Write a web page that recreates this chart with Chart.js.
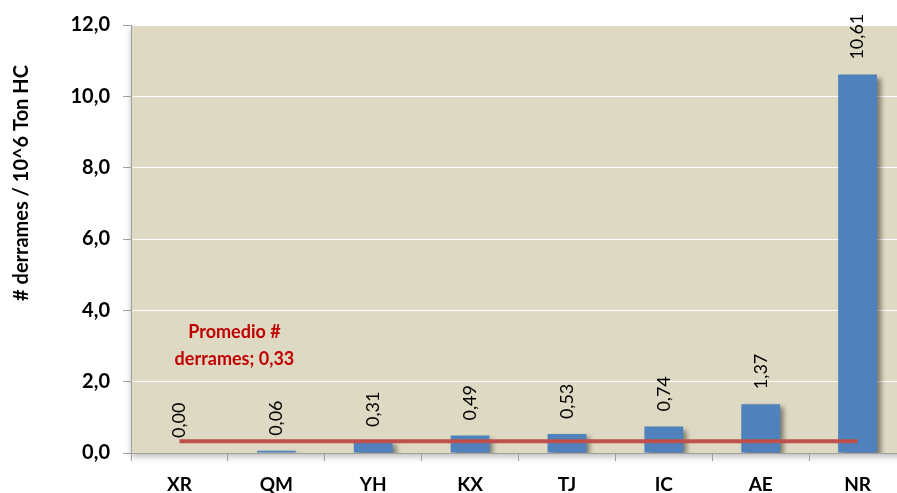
<!DOCTYPE html>
<html>
<head>
<meta charset="utf-8">
<script src="https://cdn.jsdelivr.net/npm/chart.js@4.4.0/dist/chart.umd.min.js"></script>
<style>
  html, body { margin: 0; padding: 0; background: #fff; overflow: hidden; }
  #wrap { width: 906px; height: 493px; position: relative; }
</style>
</head>
<body>
<div id="wrap"><canvas id="derramesChart"></canvas></div>
<script>
// --- data ---
const categories = ["XR", "QM", "YH", "KX", "TJ", "IC", "AE", "NR"];
const derrames = [0.00, 0.06, 0.31, 0.49, 0.53, 0.74, 1.37, 10.61];
const promedio = 0.33;
const promedioLine = categories.map(() => promedio);
const yTicks = [0, 2, 4, 6, 8, 10, 12];

const fmt = (v, d) => v.toFixed(d).replace(".", ",");

// --- plot area background ---
const plotBg = {
  id: "plotBg",
  beforeDraw(chart) {
    const { ctx, chartArea: a } = chart;
    ctx.save();
    ctx.shadowColor = "rgba(0,0,0,0.25)";
    ctx.shadowBlur = 6;
    ctx.shadowOffsetY = 4;
    ctx.fillStyle = "#DDD9C3";
    ctx.fillRect(a.left, a.top, a.right - a.left, a.bottom - a.top);
    ctx.restore();
  },
};

// --- bar shadows ---
const barShadow = {
  id: "barShadow",
  beforeDatasetDraw(chart, args) {
    if (args.index !== 0) return;
    const ctx = chart.ctx;
    ctx.save();
    ctx.shadowColor = "rgba(0,0,0,0.45)";
    ctx.shadowBlur = 5;
    ctx.shadowOffsetX = 4;
    ctx.shadowOffsetY = 3;
  },
  afterDatasetDraw(chart, args) {
    if (args.index !== 0) return;
    chart.ctx.restore();
  },
};

// --- value labels, y title and average label ---
const labels = {
  id: "labels",
  afterDraw(chart) {
    const ctx = chart.ctx;
    const bars = chart.getDatasetMeta(0).data;
    ctx.save();
    ctx.fillStyle = "#000";
    ctx.font = "18px Lato";
    ctx.textAlign = "left";
    ctx.textBaseline = "middle";
    bars.forEach((bar, i) => {
      ctx.save();
      ctx.translate(bar.x, bar.y - 15);
      ctx.rotate(-Math.PI / 2);
      ctx.fillText(fmt(derrames[i], 2), 0, 0);
      ctx.restore();
    });

    // y axis title
    ctx.save();
    ctx.translate(22, 183);
    ctx.rotate(-Math.PI / 2);
    ctx.textAlign = "center";
    ctx.font = "bold 20px Lato";
    ctx.fillText("# derrames / 10^6 Ton HC", 0, 0);
    ctx.restore();

    // average label
    const p0 = chart.getDatasetMeta(1).data[0];
    ctx.fillStyle = "#C00000";
    ctx.font = "bold 18px Lato";
    ctx.textAlign = "center";
    ctx.fillText("Promedio #", p0.x + 55, p0.y - 109);
    ctx.fillText("derrames; " + fmt(promedio, 2), p0.x + 55, p0.y - 82);
    ctx.restore();
  },
};

new Chart(document.getElementById("derramesChart"), {
  data: {
    labels: categories,
    datasets: [
      {
        type: "bar",
        data: derrames,
        backgroundColor: "#4F81BD",
        barPercentage: 0.4,
        categoryPercentage: 1.0,
        order: 2,
      },
      {
        type: "line",
        data: promedioLine,
        borderColor: "#C0504D",
        borderWidth: 4,
        pointRadius: 0,
        fill: false,
        order: 1,
      },
    ],
  },
  options: {
    responsive: true,
    maintainAspectRatio: false,
    animation: false,
    layout: { padding: { top: 19, right: 0, left: 0, bottom: 0 } },
    plugins: { legend: { display: false }, tooltip: { enabled: false } },
    scales: {
      x: {
        offset: true,
        grid: {
          drawOnChartArea: false,
          tickLength: 8,
          tickColor: "#A0A0A0",
          offset: true,
        },
        border: { color: "#A0A0A0", width: 1 },
        ticks: {
          color: "#000",
          font: { family: "Lato", size: 19, weight: "bold" },
          padding: 12,
        },
        afterFit(scale) { scale.height = 40; },
      },
      y: {
        min: 0,
        max: 12,
        afterBuildTicks(scale) { scale.ticks = yTicks.map((v) => ({ value: v })); },
        grid: { color: "#FFFFFF", tickColor: "#A0A0A0", tickLength: 8 },
        border: { color: "#A0A0A0", width: 1 },
        ticks: {
          color: "#000",
          font: { family: "Lato", size: 20, weight: "bold" },
          padding: 13,
          callback: (v) => fmt(v, 1),
        },
        afterFit(scale) { scale.width = 131; },
      },
    },
  },
  plugins: [plotBg, barShadow, labels],
});
</script>
</body>
</html>
